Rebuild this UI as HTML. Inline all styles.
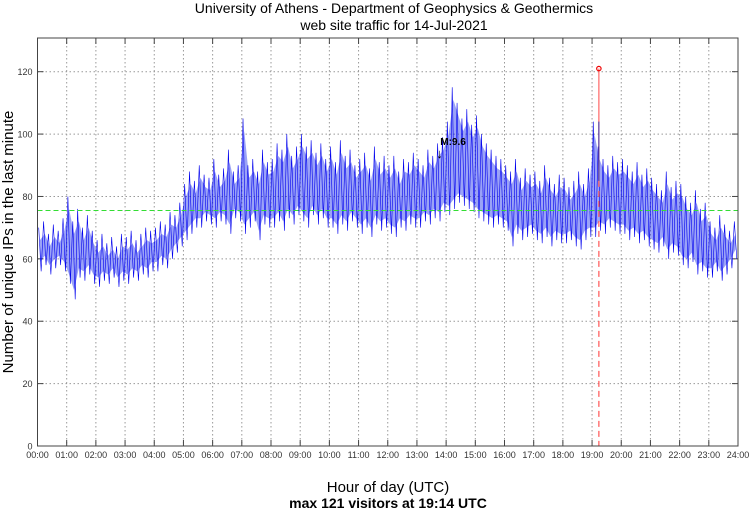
<!DOCTYPE html>
<html><head><meta charset="utf-8"><style>
body{margin:0;background:#fff;}
svg{display:block;font-family:"Liberation Sans",sans-serif;}
</style></head><body>
<svg id="chart" width="750" height="511">
<text x="394" y="13" text-anchor="middle" font-size="14">University of Athens - Department of Geophysics &amp; Geothermics</text>
<text x="394" y="30" text-anchor="middle" font-size="14">web site traffic for 14-Jul-2021</text>
<text transform="translate(13,242) rotate(-90)" text-anchor="middle" font-size="15">Number of unique IPs in the last minute</text>
<text x="388" y="492" text-anchor="middle" font-size="15">Hour of day (UTC)</text>
<text x="388" y="508" text-anchor="middle" font-size="14" font-weight="bold">max 121 visitors at 19:14 UTC</text>
<g id="grid"></g>
<g id="marks"></g>
<rect x="37.5" y="38" width="700.5" height="408" fill="none" stroke="#444" stroke-width="1"/>
</svg>
<script>
const yTicks=[0,20,40,60,80,100,120];
const xHours=[0,1,2,3,4,5,6,7,8,9,10,11,12,13,14,15,16,17,18,19,20,21,22,23,24];
const hiVals=[70,72,68,71,69,73, 80,72,76,70,74,69, 66,68,65,67,64,68, 67,69,66,68,70,69, 70,72,71,75,74,78, 84,88,85,90,87,86, 92,87,89,95,88,90, 105,90,92,88,95,91, 92,97,95,100,93,96, 100,96,98,94,97,92, 96,91,98,93,95,90, 92,94,89,96,91,93, 90,93,88,92,91,94, 92,90,95,93,97,99, 104,115,110,105,108,103, 106,100,97,95,93,92, 90,88,92,86,89,87, 88,85,90,86,84,87, 86,83,85,88,84,89, 104,96,92,90,93,91, 92,90,88,91,87,89, 86,84,82,88,83,85, 84,80,78,82,76,78, 72,70,74,71,69,72];
const loVals=[56,58,55,57,58,56, 52,47,54,53,55,52, 51,53,52,54,51,53, 52,54,53,55,54,56, 56,58,57,60,62,64, 66,68,70,70,72,71, 70,72,71,68,73,72, 68,70,72,66,71,70, 70,72,69,73,71,74, 72,70,74,71,73,70, 70,68,71,69,72,70, 68,70,67,71,69,70, 68,67,70,69,71,70, 70,72,71,73,72,75, 74,76,78,77,76,75, 73,72,71,70,71,70, 69,64,68,66,67,68, 66,65,67,64,66,65, 65,66,64,63,66,67, 67,69,68,70,69,68, 68,66,67,65,66,64, 63,62,64,60,62,61, 58,57,59,55,56,54, 54,56,53,55,57,60];
const meanVal=75.5;
const maxVal=121;
const maxMinute=19*60+14;
const markerLabel="M:9.6";
const markerMinute=13*60+48;
const markerVal=93;

const X0=37.5,X1=738,Y0=446,YTOP=38,YMAX=130.8;
const xs=m=>X0+(X1-X0)*m/1440;
const ys=v=>Y0-(Y0-YTOP)*v/YMAX;
const NS="http://www.w3.org/2000/svg";
const grid=document.getElementById('grid'),marks=document.getElementById('marks');
function mk(tag,attrs,parent){const e=document.createElementNS(NS,tag);for(const k in attrs)e.setAttribute(k,attrs[k]);parent.appendChild(e);return e;}

yTicks.forEach(v=>{const y=ys(v);
 if(v>0){const g=mk('line',{x1:X0,x2:X1,y1:y,y2:y,stroke:'#999','stroke-dasharray':'1.5,2.5','stroke-width':1},grid);
 
 }
 mk('line',{x1:X0,x2:X0+6,y1:y,y2:y,stroke:'#444'},grid);
 mk('line',{x1:X1-6,x2:X1,y1:y,y2:y,stroke:'#444'},grid);
 const t=mk('text',{x:X0-5,y:y+3.5,'text-anchor':'end','font-size':9,fill:'#333'},grid);t.textContent=v;
 
 
});
xHours.forEach(h=>{const x=xs(h*60);
 if(h>0&&h<24){const g=mk('line',{x1:x,x2:x,y1:YTOP,y2:Y0,stroke:'#999','stroke-dasharray':'1.5,2.5','stroke-width':1},grid);
 
 }
 mk('line',{x1:x,x2:x,y1:Y0-6,y2:Y0,stroke:'#444'},grid);
 mk('line',{x1:x,x2:x,y1:YTOP,y2:YTOP+6,stroke:'#444'},grid);
 const t=mk('text',{x:x,y:Y0+12,'text-anchor':'middle','font-size':9,fill:'#333'},grid);t.textContent=(h<10?'0':'')+h+':00';
 
 
});

// envelope band
let band=[];
for(let i=0;i<hiVals.length;i++)band.push(xs(i*10+5).toFixed(2)+','+ys(hiVals[i]-4).toFixed(2));
for(let i=loVals.length-1;i>=0;i--)band.push(xs(i*10+5).toFixed(2)+','+ys(loVals[i]+3).toFixed(2));
const bd=mk('polygon',{points:band.join(' '),fill:'#2233ee','fill-opacity':0.45,stroke:'none'},marks);



let pts=[];
for(let i=0;i<hiVals.length;i++){
 pts.push(xs(i*10+2.5).toFixed(2)+','+ys(hiVals[i]).toFixed(2));
 pts.push(xs(i*10+7.5).toFixed(2)+','+ys(loVals[i]).toFixed(2));
}
const pl=mk('polyline',{points:pts.join(' '),fill:'none',stroke:'#0000ee','stroke-width':0.6},marks);



const ml=mk('line',{x1:X0,x2:X1,y1:ys(meanVal),y2:ys(meanVal),stroke:'#33dd33','stroke-dasharray':'5,3','stroke-width':1},marks);



const mx=xs(maxMinute);
const rd=mk('line',{x1:mx,x2:mx,y1:ys(85),y2:Y0,stroke:'#ff5555','stroke-dasharray':'6,4','stroke-width':1.2},marks);


const rs=mk('line',{x1:mx,x2:mx,y1:ys(maxVal),y2:ys(85),stroke:'#ff6666','stroke-width':1.2},marks);


const bs=mk('line',{x1:mx,x2:mx,y1:ys(104),y2:ys(85),stroke:'#3333aa','stroke-width':1},marks);


const mc=mk('circle',{cx:mx,cy:ys(maxVal),r:2.2,fill:'none',stroke:'#ee0000','stroke-width':1.2},marks);



const ax=xs(markerMinute);
const mt=mk('text',{x:ax,y:ys(markerVal)-11,'font-size':10,'font-weight':'bold'},marks);mt.textContent=markerLabel;


const ma=mk('text',{x:ax-4,y:ys(markerVal)+2,'font-size':13},marks);ma.textContent='↓';


</script>
</body></html>
